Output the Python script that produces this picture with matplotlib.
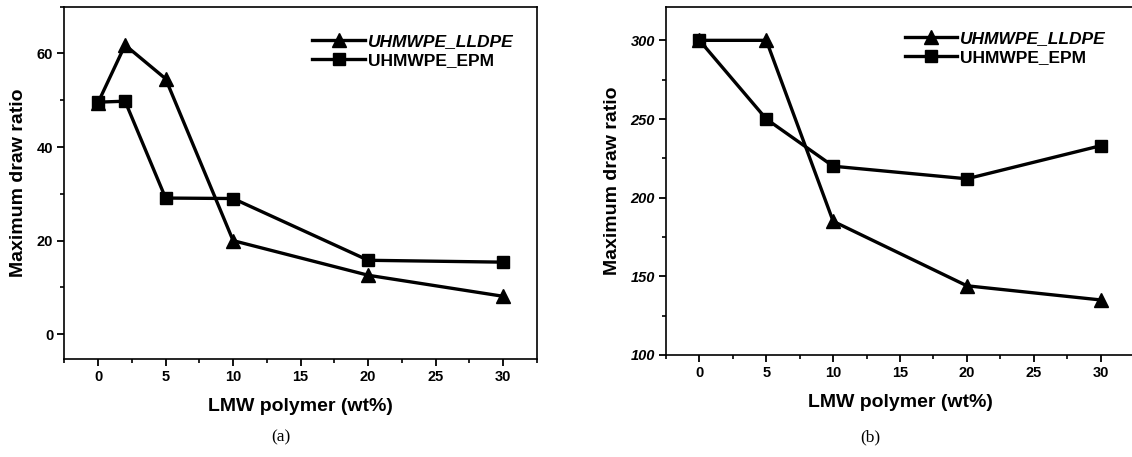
import matplotlib
matplotlib.use("Agg")
import matplotlib.pyplot as plt
from matplotlib.ticker import MultipleLocator
from matplotlib.lines import Line2D

# Data
x_a = [0, 2, 5, 10, 20, 30]
lldpe_a = [49.5, 61.8, 54.6, 20.0, 12.6, 8.1]
epm_a = [49.6, 49.8, 29.1, 29.0, 15.8, 15.4]

x_b = [0, 5, 10, 20, 30]
lldpe_b = [300, 300, 185, 144, 135]
epm_b = [300, 250, 220, 212, 233]

labels = ["UHMWPE_LLDPE", "UHMWPE_EPM"]
xlabel = "LMW polymer (wt%)"
ylabel = "Maximum draw ratio"
captions = ["(a)", "(b)"]

plt.rcParams['font.family'] = ['Liberation Sans', 'DejaVu Sans']

W, H = 1132, 457
fig = plt.figure(figsize=(W / 100, H / 100), dpi=100)

def px_axes(l, r, t, b):
    return fig.add_axes([l / W, 1 - b / H, (r - l) / W, (b - t) / H])

ax1 = px_axes(64.3, 537, 6.7, 359)
ax2 = px_axes(666, 1134, 7.3, 355)

lw = 2.4
ms_tri = 9.5
ms_sq = 8.5

def style(ax, ylim, ymaj, ymin, italic_y=False):
    ax.set_xlim(-2.5, 32.5)
    ax.set_ylim(*ylim)
    ax.xaxis.set_major_locator(MultipleLocator(5))
    ax.xaxis.set_minor_locator(MultipleLocator(2.5))
    ax.yaxis.set_major_locator(MultipleLocator(ymaj))
    ax.yaxis.set_minor_locator(MultipleLocator(ymin))
    ax.tick_params(which='major', direction='out', length=5, width=1.3,
                   labelsize=10.5, pad=3, top=False, right=False)
    ax.tick_params(which='minor', direction='out', length=3, width=1.2,
                   top=False, right=False)
    for lab in ax.get_xticklabels() + ax.get_yticklabels():
        lab.set_fontweight('bold')
    if italic_y:
        for lab in ax.get_yticklabels():
            lab.set_fontstyle('italic')
    for s in ax.spines.values():
        s.set_linewidth(1.2)
    ax.set_xlabel(xlabel, fontsize=14, fontweight='bold', labelpad=10)
    ax.set_ylabel(ylabel, fontsize=14, fontweight='bold', labelpad=7)

def legend(ax, xa, ya):
    handles = [
        Line2D([], [], color='black', lw=lw, marker='^', ms=ms_tri),
        Line2D([], [], color='black', lw=lw, marker='s', ms=ms_sq),
    ]
    leg = ax.legend(handles, labels, loc='upper left', bbox_to_anchor=(xa, ya),
                    frameon=False, handlelength=3.0,
                    handletextpad=0.2, borderpad=0, borderaxespad=0,
                    labelspacing=0.2, prop={'weight': 'bold', 'size': 12.5})
    leg.get_texts()[0].set_fontstyle('italic')
    return leg

ax1.plot(x_a, lldpe_a, color='black', lw=lw, marker='^', ms=ms_tri, zorder=3)
ax1.plot(x_a, epm_a, color='black', lw=lw, marker='s', ms=ms_sq, zorder=3)
style(ax1, (-5.3, 70), 20, 10)
legend(ax1, 0.525, 0.922)

ax2.plot(x_b, lldpe_b, color='black', lw=lw, marker='^', ms=ms_tri, zorder=3)
ax2.plot(x_b, epm_b, color='black', lw=lw, marker='s', ms=ms_sq, zorder=3)
style(ax2, (100, 321), 50, 25, italic_y=True)
legend(ax2, 0.51, 0.932)

fig.text(281 / W, 1 - 437 / H, captions[0], ha='center', va='center',
         fontsize=12.5, family='Liberation Serif')
fig.text(870 / W, 1 - 437 / H, captions[1], ha='center', va='center',
         fontsize=12.5, family='Liberation Serif')

fig.savefig("out.png", dpi=100)
